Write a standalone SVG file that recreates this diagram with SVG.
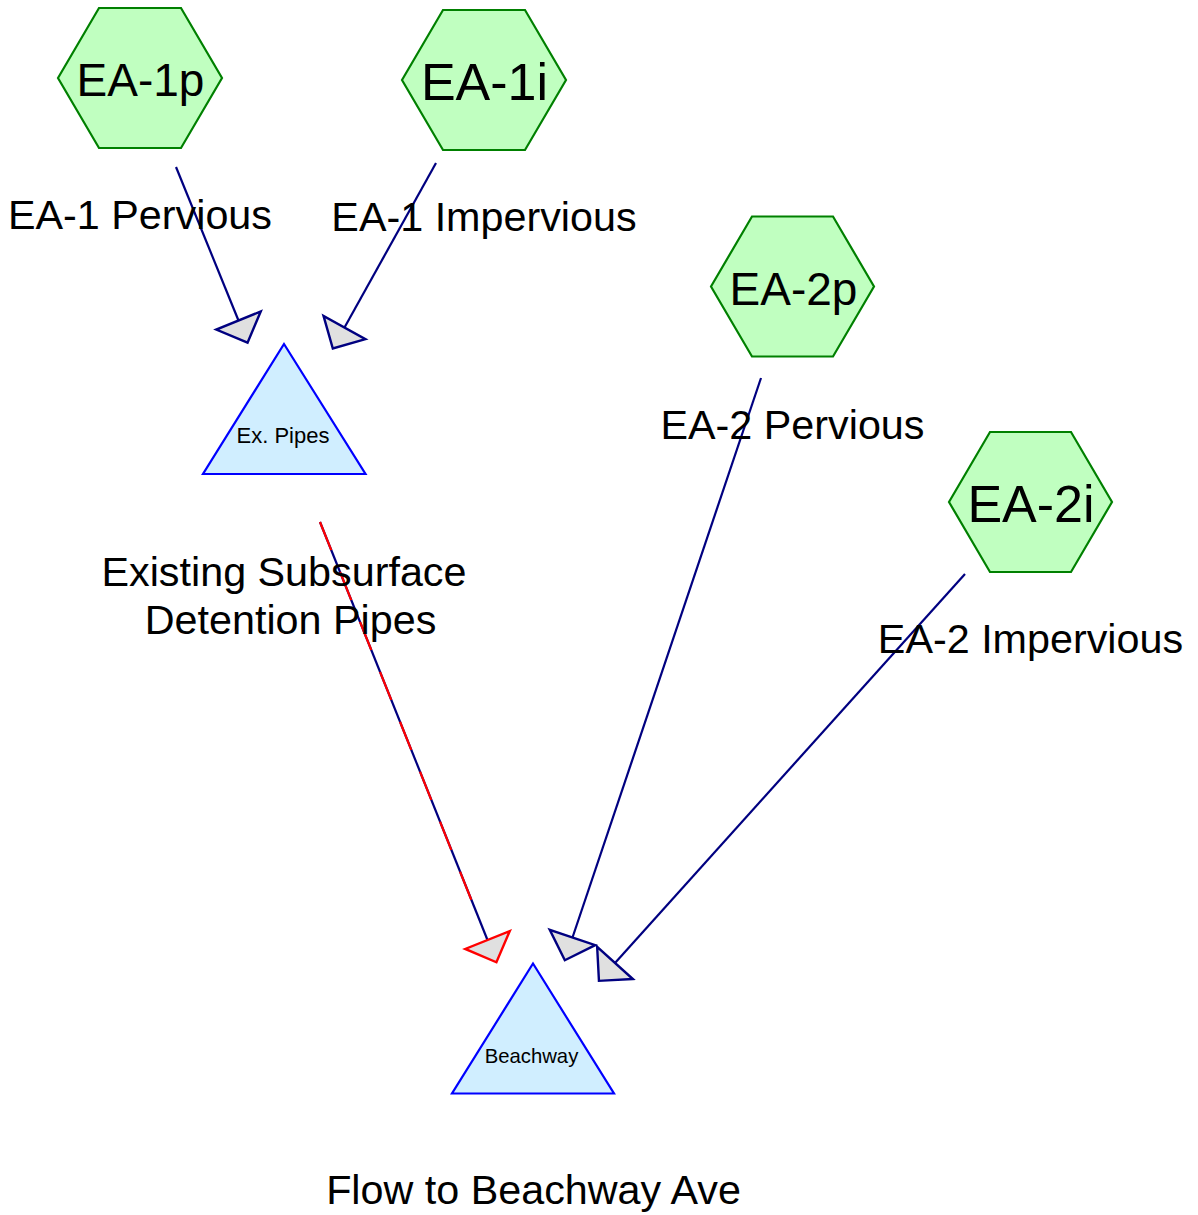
<svg xmlns="http://www.w3.org/2000/svg" width="1198" height="1215" viewBox="0 0 1198 1215">
<style>
.hex{fill:#c0ffc0;stroke:#008000;stroke-width:2.2}
.tri{fill:#d0eeff;stroke:#0000ff;stroke-width:2.2}
.hl{font-family:"Liberation Sans",Arial,sans-serif;fill:#000;text-anchor:middle}
.lbl{font-family:"Liberation Sans",Arial,sans-serif;font-size:41.3px;fill:#000;text-anchor:middle}
.tl{font-family:"Liberation Sans",Arial,sans-serif;fill:#000;text-anchor:middle}
.edge{fill:none;stroke:#000080;stroke-width:2.2}
.red{fill:none;stroke:#ff0000;stroke-width:2.2;stroke-dasharray:30.3 23.5}
</style>
<defs>
<marker id="arr" markerUnits="userSpaceOnUse" viewBox="-2 -26 28 52" refX="0" refY="0" markerWidth="28" markerHeight="52" orient="auto" overflow="visible">
<path d="M0,-24 L24,0 L0,24 Z" fill="#e0e0e0" stroke="#000080" stroke-width="2.4"/>
</marker>
<marker id="arrRed" markerUnits="userSpaceOnUse" viewBox="-2 -26 28 52" refX="0" refY="0" markerWidth="28" markerHeight="52" orient="auto" overflow="visible">
<path d="M0,-24 L24,0 L0,24 Z" fill="#e0e0e0" stroke="#ff0000" stroke-width="2.4"/>
</marker>
</defs>
<rect width="1198" height="1215" fill="#fff"/>
<g id="connectors">
<line class="edge" x1="176" y1="167" x2="238.5" y2="320.5" marker-end="url(#arr)"/>
<line class="edge" x1="436" y1="163" x2="344.5" y2="327.5" marker-end="url(#arr)"/>
<line class="edge" x1="320" y1="522" x2="487.5" y2="940" marker-end="url(#arrRed)"/>
<line class="red" x1="320" y1="522" x2="471.4" y2="900"/>
<line class="edge" x1="761" y1="378" x2="572.5" y2="937.5" marker-end="url(#arr)"/>
<line class="edge" x1="965" y1="574" x2="615" y2="963" marker-end="url(#arr)"/>
</g>
<g id="EA-1p">
<polygon class="hex" points="58,78 99,8 181,8 222,78 181,148 99,148"/>
<text class="hl" x="140.5" y="96" font-size="46">EA-1p</text>
<text class="lbl" x="140" y="229">EA-1 Pervious</text>
</g>
<g id="EA-1i">
<polygon class="hex" points="402,80 443,10 525,10 566,80 525,150 443,150"/>
<text class="hl" x="484.5" y="100" font-size="52">EA-1i</text>
<text class="lbl" x="484" y="231">EA-1 Impervious</text>
</g>
<g id="EA-2p">
<polygon class="hex" points="711,286.5 752,216.5 833,216.5 874,286.5 833,356.5 752,356.5"/>
<text class="hl" x="793.5" y="305" font-size="46">EA-2p</text>
<text class="lbl" x="792.5" y="439">EA-2 Pervious</text>
</g>
<g id="EA-2i">
<polygon class="hex" points="949,502 990,432 1071,432 1112,502 1071,572 990,572"/>
<text class="hl" x="1031" y="521.5" font-size="52">EA-2i</text>
<text class="lbl" x="1030.5" y="653">EA-2 Impervious</text>
</g>
<g id="ExPipes">
<polygon class="tri" points="284,344 365.5,474 203,474"/>
<text class="tl" x="283" y="443" font-size="22">Ex. Pipes</text>
<text class="lbl" x="284" y="586">Existing Subsurface</text>
<text class="lbl" x="290.5" y="634">Detention Pipes</text>
</g>
<g id="Beachway">
<polygon class="tri" points="533,963.5 614,1093.5 452,1093.5"/>
<text class="tl" x="531.5" y="1062.5" font-size="20.3">Beachway</text>
<text class="lbl" x="533.5" y="1204">Flow to Beachway Ave</text>
</g>
</svg>
